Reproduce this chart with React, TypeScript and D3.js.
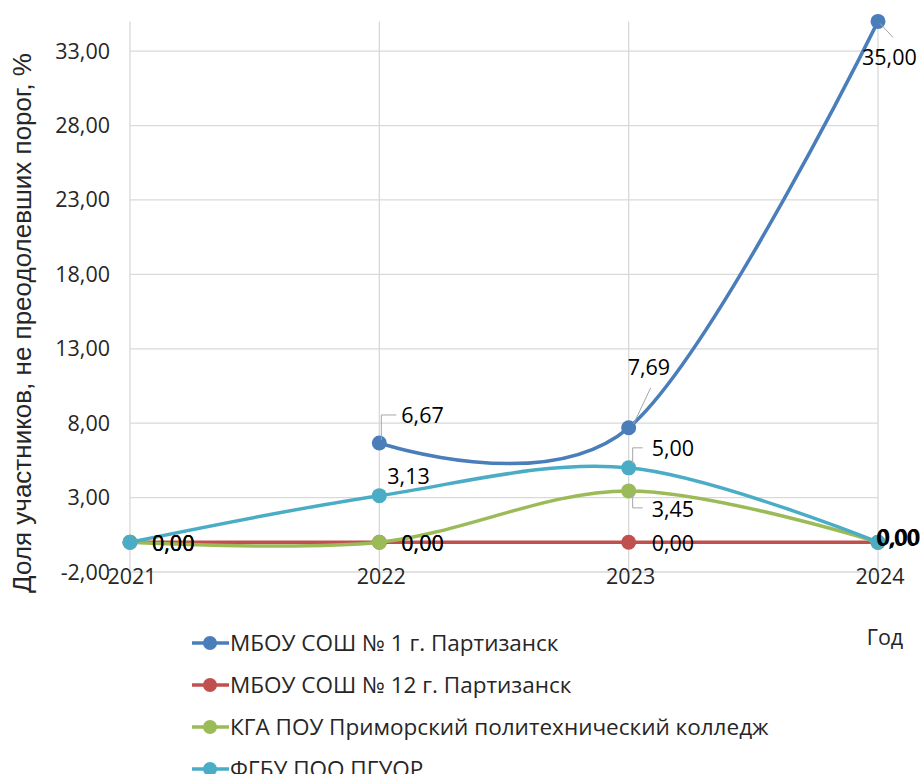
import React from "react";
import * as d3 from "d3";

const years = ["2021", "2022", "2023", "2024"];
const seriesNames = [
  "МБОУ СОШ № 1 г. Партизанск",
  "МБОУ СОШ № 12 г. Партизанск",
  "КГА ПОУ Приморский политехнический колледж",
  "ФГБУ ПОО ПГУОР",
];
const school1 = [null, 6.67, 7.69, 35.0];
const school12 = [0, 0, 0, 0];
const college = [0, 0, 3.45, 0];
const pguor = [0, 3.13, 5.0, 0];
const colors = ["#4a7ebb", "#c0504d", "#9bbb59", "#4bacc6"];
const yTicks = [-2, 3, 8, 13, 18, 23, 28, 33];
const yTitle = "Доля участников, не преодолевших порог, %";
const xTitle = "Год";

const allSeries = [school1, school12, college, pguor];

type Lab = { dx: number; dy: number; leader?: string };
const labelLayout: Lab[][] = [
  [
    { dx: 0, dy: 0 },
    { dx: 22, dy: -28, leader: "upRight" },
    { dx: -1, dy: -60, leader: "diag769" },
    { dx: -16, dy: 36, leader: "diag35" },
  ],
  [
    { dx: 22, dy: 1 },
    { dx: 22, dy: 1 },
    { dx: 23, dy: 1 },
    { dx: -2, dy: -4 },
  ],
  [
    { dx: 22, dy: 1 },
    { dx: 22, dy: 1 },
    { dx: 23, dy: 19, leader: "downRight" },
    { dx: -1, dy: -5 },
  ],
  [
    { dx: 22, dy: 1 },
    { dx: 8, dy: -19 },
    { dx: 23, dy: -19, leader: "upRight5" },
    { dx: 0, dy: -5 },
  ],
];

const fmt = (v: number) => v.toFixed(2).replace(".", ",");

export default function App() {
  const W = 923;
  const H = 774;
  const x = d3.scalePoint<string>().domain(years).range([130, 878]);
  const y = d3.scaleLinear().domain([-2, 35]).range([572, 21.4]);
  const numFont = "'Open Sans', sans-serif";
  const fs = 21.5;

  const line = d3
    .line<{ v: number | null; i: number }>()
    .defined((d) => d.v != null)
    .x((d) => x(years[d.i]) as number)
    .y((d) => y(d.v as number))
    .curve(d3.curveCardinal.tension(0));

  return (
    <svg
      width={W}
      height={H}
      style={{ position: "absolute", left: 0, top: 0, background: "#fff" }}
    >
      {yTicks.map((t) => (
        <line key={"h" + t} x1={130} x2={878} y1={y(t)} y2={y(t)} stroke="#d9d9d9" strokeWidth={1.3} />
      ))}
      {years.map((yr) => (
        <line key={"v" + yr} x1={x(yr)} x2={x(yr)} y1={y(35)} y2={y(-2)} stroke="#d9d9d9" strokeWidth={1.3} />
      ))}
      {yTicks.map((t) => (
        <text
          key={"yt" + t}
          x={110}
          y={y(t)}
          dy="0.35em"
          textAnchor="end"
          fontFamily={numFont}
          fontSize={fs}
          fill="#262626"
        >
          {fmt(t)}
        </text>
      ))}
      {years.map((yr) => (
        <text
          key={"xt" + yr}
          x={(x(yr) as number) + 2}
          y={y(-2) + 4}
          dy="0.35em"
          textAnchor="middle"
          fontFamily={numFont}
          fontSize={fs}
          fill="#262626"
        >
          {yr}
        </text>
      ))}
      <text
        transform={`translate(31,323) rotate(-90)`}
        textAnchor="middle"
        fontFamily="'Liberation Sans', Arial, sans-serif"
        fontSize={26}
        fill="#262626"
      >
        {yTitle}
      </text>
      <text x={885} y={637} dy="0.35em" textAnchor="middle" fontFamily={numFont} fontSize={fs} fill="#262626">
        {xTitle}
      </text>
      {allSeries.map((s, si) => {
        const pts = s.map((v, i) => ({ v, i }));
        return (
          <g key={"s" + si}>
            <path d={line(pts) || ""} fill="none" stroke={colors[si]} strokeWidth={3.5} />
            {pts
              .filter((p) => p.v != null)
              .map((p) => (
                <circle key={p.i} cx={x(years[p.i])} cy={y(p.v as number)} r={7.5} fill={colors[si]} />
              ))}
          </g>
        );
      })}
      {allSeries.map((s, si) =>
        s.map((v, i) => {
          if (v == null) return null;
          const px = x(years[i]) as number;
          const py = y(v);
          const L = labelLayout[si][i];
          const tx = px + L.dx;
          const ty = py + L.dy;
          let leader: React.ReactNode = null;
          if (L.leader === "upRight") {
            leader = <polyline points={`${px + 2},${py - 3} ${px + 2},${ty} ${px + 17},${ty}`} fill="none" stroke="#a6a6a6" strokeWidth={1} />;
          } else if (L.leader === "upRight5") {
            leader = <polyline points={`${px + 4},${py - 4} ${px + 4},${py - 20} ${px + 14},${py - 20}`} fill="none" stroke="#a6a6a6" strokeWidth={1} />;
          } else if (L.leader === "downRight") {
            leader = <polyline points={`${px + 4},${py + 2} ${px + 4},${py + 17} ${px + 14},${py + 17}`} fill="none" stroke="#a6a6a6" strokeWidth={1} />;
          } else if (L.leader === "diag769") {
            leader = <line x1={px + 5} y1={py - 4} x2={px + 22} y2={py - 40} stroke="#a6a6a6" strokeWidth={1} />;
          } else if (L.leader === "diag35") {
            leader = <line x1={px + 2} y1={py + 2} x2={px + 15} y2={py + 16} stroke="#a6a6a6" strokeWidth={1} />;
          }
          return (
            <g key={`l${si}-${i}`}>
              {leader}
              <text x={tx} y={ty} dy="0.35em" fontFamily={numFont} fontSize={fs} fill="#000">
                {fmt(v)}
              </text>
            </g>
          );
        })
      )}
      {seriesNames.map((n, i) => {
        const ly = 643 + i * 42;
        return (
          <g key={"lg" + i}>
            <line x1={192} x2={229} y1={ly} y2={ly} stroke={colors[i]} strokeWidth={3.5} />
            <circle cx={210} cy={ly} r={7} fill={colors[i]} />
            <text x={230} y={ly} dy="0.35em" fontFamily={numFont} fontSize={22.5} fill="#262626">
              {n}
            </text>
          </g>
        );
      })}
    </svg>
  );
}
